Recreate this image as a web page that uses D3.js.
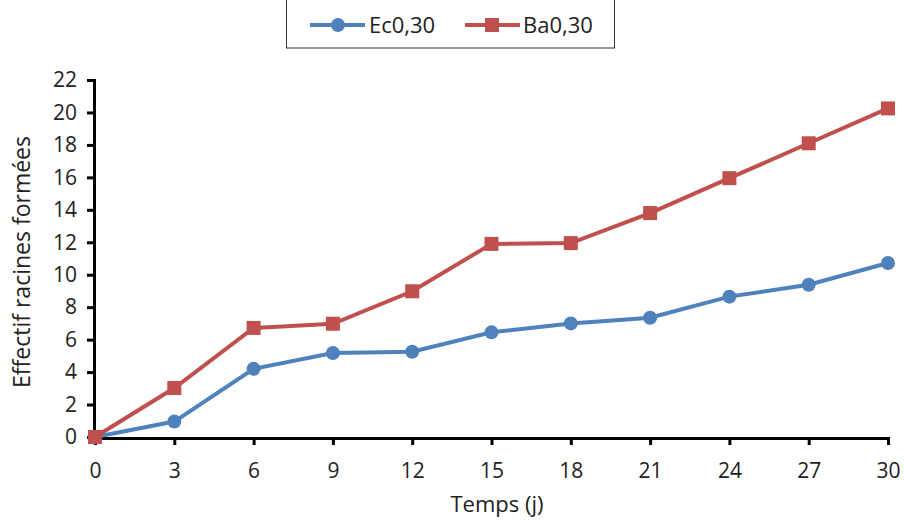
<!DOCTYPE html>
<html><head><meta charset="utf-8">
<script src="https://cdn.jsdelivr.net/npm/d3@7"></script>
<style>body{margin:0;background:#fff}svg{display:block}text{font-family:"Open Sans",sans-serif;fill:#222}</style>
</head><body>
<script>
const days = [0,3,6,9,12,15,18,21,24,27,30];
const ec = [0,0.95,4.2,5.18,5.25,6.45,7.0,7.35,8.65,9.38,10.72];
const ba = [0,3.02,6.72,6.98,8.98,11.9,11.95,13.8,15.95,18.1,20.25];
const yTicks = [0,2,4,6,8,10,12,14,16,18,20,22];
const seriesNames = ["Ec0,30","Ba0,30"];
const colors = ["#4F81BD","#C0504D"];

const W=904,H=521;
const svg=d3.select("body").append("svg").attr("width",W).attr("height",H);
const x=d3.scaleLinear().domain([0,30]).range([95,888]);
const y=d3.scaleLinear().domain([0,22]).range([437,80]);

const yAxis=svg.append("g").attr("transform","translate(94,0)")
  .call(d3.axisLeft(y).tickValues(yTicks).tickSize(7).tickPadding(10));
const xAxis=svg.append("g").attr("transform","translate(0,438)")
  .call(d3.axisBottom(x).tickValues(days).tickSize(7).tickPadding(18));
[yAxis,xAxis].forEach(g=>{
  g.select(".domain").attr("stroke","#000").attr("stroke-width",3);
  g.selectAll(".tick line").attr("stroke","#000").attr("stroke-width",3);
  g.selectAll("text").attr("font-size",21).attr("font-family","Open Sans").attr("fill","#222");
});
yAxis.selectAll(".tick line").attr("x2",-7);

svg.append("text").attr("x",497).attr("y",512).attr("text-anchor","middle").attr("font-size",22).text("Temps (j)");
svg.append("text").attr("transform","translate(30,262) rotate(-90)").attr("text-anchor","middle").attr("font-size",23).text("Effectif racines formées");

const line=d3.line().x((d,i)=>x(days[i])).y(d=>y(d));
[ec,ba].forEach((s,k)=>{
  svg.append("path").datum(s).attr("d",line).attr("fill","none").attr("stroke",colors[k]).attr("stroke-width",4);
});
svg.selectAll(".ec").data(ec).enter().append("circle")
  .attr("cx",(d,i)=>x(days[i])).attr("cy",d=>y(d)).attr("r",7).attr("fill",colors[0]);
svg.selectAll(".ba").data(ba).enter().append("rect")
  .attr("x",(d,i)=>x(days[i])-7).attr("y",d=>y(d)-7).attr("width",14).attr("height",14).attr("fill",colors[1]);

// legend
svg.append("rect").attr("x",286.5).attr("y",-5).attr("width",328).attr("height",53).attr("fill","none").attr("stroke","#333").attr("stroke-width",1);
const lg=[{x1:310,x2:365,m:338,t:369},{x1:465,x2:520,m:492,t:523}];
lg.forEach((l,k)=>{
  svg.append("line").attr("x1",l.x1).attr("x2",l.x2).attr("y1",25).attr("y2",25).attr("stroke",colors[k]).attr("stroke-width",4);
  if(k===0) svg.append("circle").attr("cx",l.m).attr("cy",25).attr("r",7).attr("fill",colors[0]);
  else svg.append("rect").attr("x",l.m-7).attr("y",18).attr("width",14).attr("height",14).attr("fill",colors[1]);
  svg.append("text").attr("x",l.t).attr("y",33).attr("font-size",22).text(seriesNames[k]);
});
</script>
</body></html>
